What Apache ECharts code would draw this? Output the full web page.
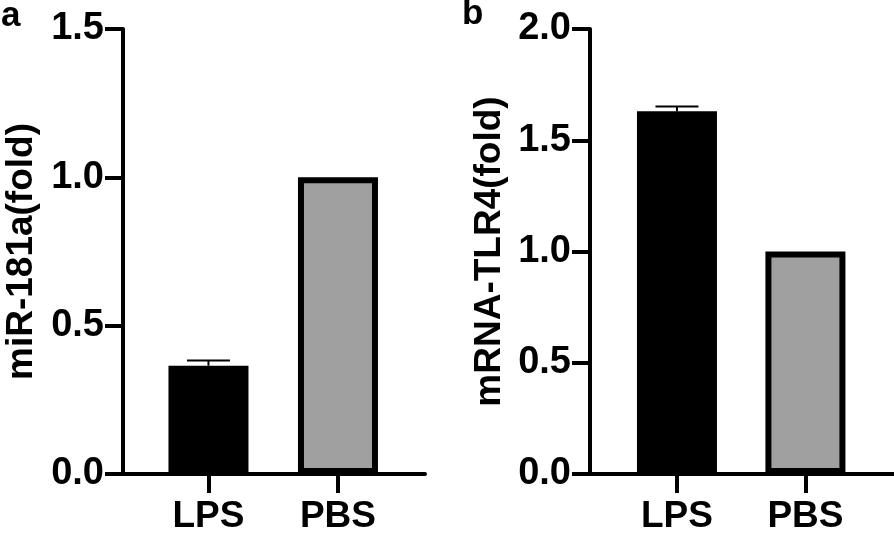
<!DOCTYPE html>
<html>
<head>
<meta charset="utf-8">
<script src="https://cdn.jsdelivr.net/npm/echarts@6/dist/echarts.min.js"></script>
<style>
html,body{margin:0;padding:0;background:#fff;}
#chart{width:894px;height:535px;}
</style>
</head>
<body>
<div id="chart"></div>
<script>
// ---- data ----
const categories = ['LPS', 'PBS'];
const barColors = ['#000000', '#a0a0a0'];
const mirValues = [0.365, 1.0];
const mirErrors = [0.018, 0];
const tlrValues = [1.63, 1.0];
const tlrErrors = [0.022, 0];
const panelLetters = ['a', 'b'];
const yTitles = ['miR-181a(fold)', 'mRNA-TLR4(fold)'];
const yMaxes = [1.5, 2.0];

const FONT = '"Liberation Sans", Arial, Helvetica, sans-serif';
const chart = echarts.init(document.getElementById('chart'), null, {renderer: 'canvas'});

function barData(vals) {
  return vals.map((v, i) => ({
    value: [i + 1, v],
    itemStyle: {color: barColors[i]}
  }));
}
function errData(vals, errs) {
  return vals.map((v, i) => [i + 1, v, v + errs[i]]).filter((d, i) => errs[i] > 0);
}
function errRender(params, api) {
  const x = api.value(0);
  const base = api.coord([x, api.value(1)]);
  const top = api.coord([x, api.value(2)]);
  const half = 21.5;
  const style = {stroke: '#000', lineWidth: 2};
  return {
    type: 'group',
    children: [
      {type: 'line', shape: {x1: base[0], y1: base[1], x2: top[0], y2: top[1]}, style: style},
      {type: 'line', shape: {x1: top[0] - half, y1: top[1], x2: top[0] + half, y2: top[1]}, style: style}
    ]
  };
}

function xAxisCfg(idx, min, max) {
  return {
    gridIndex: idx, type: 'value', min: min, max: max,
    axisLine: {show: true, onZero: false, lineStyle: {color: '#000', width: 4}},
    axisTick: {show: true, length: 19, lineStyle: {color: '#000', width: 4}, customValues: [1, 2]},
    axisLabel: {
      customValues: [1, 2], margin: 24,
      formatter: v => categories[Math.round(v) - 1] || '',
      color: '#000', fontSize: 37, fontWeight: 'bold', fontFamily: FONT
    },
    splitLine: {show: false}
  };
}
function yAxisCfg(idx) {
  return {
    gridIndex: idx, type: 'value', min: 0, max: yMaxes[idx], interval: 0.5,
    name: yTitles[idx], nameLocation: 'middle', nameRotate: 90, nameGap: idx === 0 ? 83 : 82,
    nameTextStyle: {color: '#000', fontSize: 37, fontWeight: 'bold', fontFamily: FONT},
    axisLine: {show: true, lineStyle: {color: '#000', width: 4}},
    axisTick: {show: true, length: 18, lineStyle: {color: '#000', width: 4}},
    axisLabel: {
      margin: 19, formatter: v => v.toFixed(1), padding: [0, 0, 8, 0],
      color: '#000', fontSize: 38, fontWeight: 'bold', fontFamily: FONT
    },
    splitLine: {show: false}
  };
}

const option = {
  backgroundColor: '#fff',
  animation: false,
  title: [
    {text: panelLetters[0], left: -4, top: -6, textStyle: {fontSize: 35, fontWeight: 'bold', color: '#000', fontFamily: FONT}},
    {text: panelLetters[1], left: 457, top: -8, textStyle: {fontSize: 35, fontWeight: 'bold', color: '#000', fontFamily: FONT}}
  ],
  grid: [
    {left: 123, top: 29, width: 302, height: 449},
    {left: 590, top: 29, width: 306, height: 449}
  ],
  xAxis: [xAxisCfg(0, 0.34, 0.34 + 302 / 129.5), xAxisCfg(1, 0.323, 0.323 + 306 / 129.3)],
  yAxis: [yAxisCfg(0), yAxisCfg(1)],
  series: [
    {type: 'bar', xAxisIndex: 0, yAxisIndex: 0, barWidth: 80, data: barData(mirValues),
     itemStyle: {borderColor: '#000', borderWidth: 6}},
    {type: 'custom', xAxisIndex: 0, yAxisIndex: 0, renderItem: errRender, data: errData(mirValues, mirErrors), z: 5},
    {type: 'bar', xAxisIndex: 1, yAxisIndex: 1, barWidth: 80, data: barData(tlrValues),
     itemStyle: {borderColor: '#000', borderWidth: 6}},
    {type: 'custom', xAxisIndex: 1, yAxisIndex: 1, renderItem: errRender, data: errData(tlrValues, tlrErrors), z: 5}
  ]
};
chart.setOption(option);
</script>
</body>
</html>
